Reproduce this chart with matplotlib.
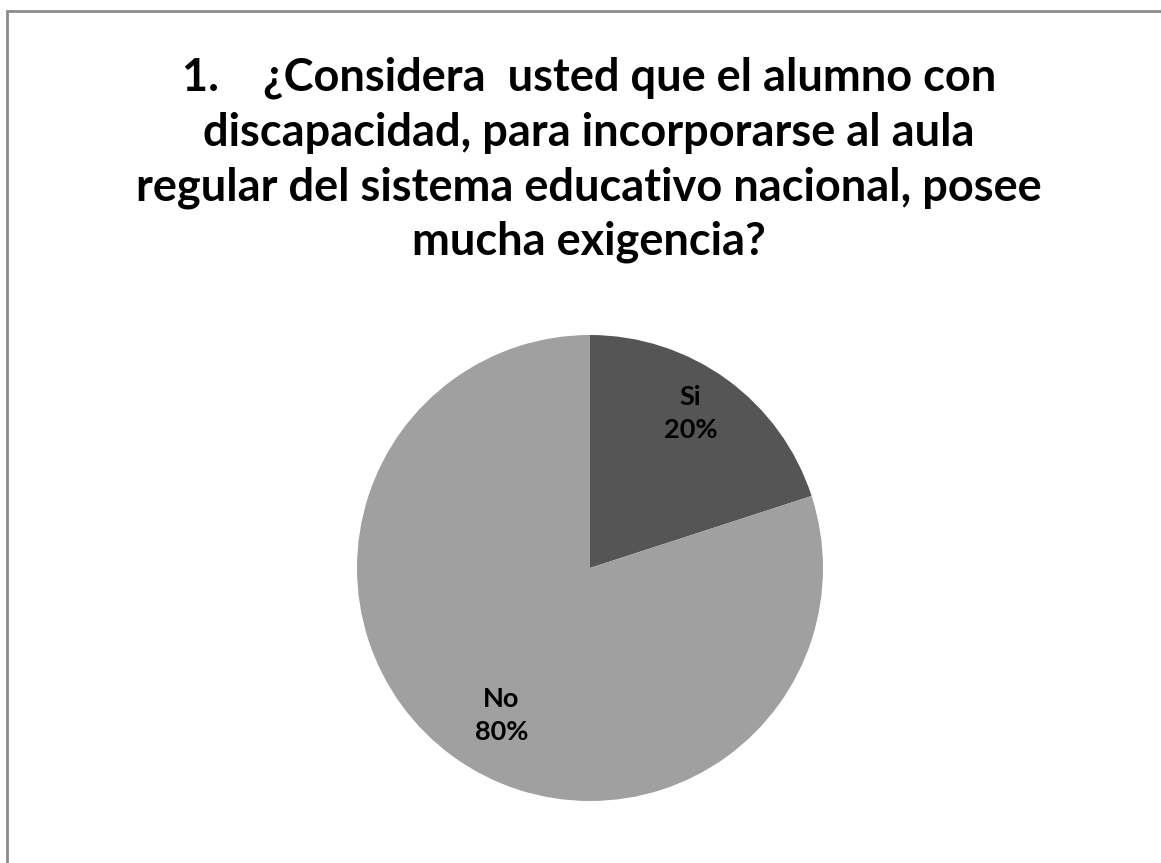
import matplotlib
matplotlib.use("Agg")
import matplotlib.pyplot as plt
from matplotlib.patches import Rectangle
import numpy as np

title_lines = [
    "1.    ¿Considera  usted que el alumno con",
    "discapacidad, para incorporarse al aula",
    "regular del sistema educativo nacional, posee",
    "mucha exigencia?",
]
categories = ["Si", "No"]
values = [20, 80]
colors = ["#555555", "#a0a0a0"]

W, H = 1161, 863
fig = plt.figure(figsize=(W / 100, H / 100), dpi=100)
plt.rcParams['font.family'] = ['Lato', 'DejaVu Sans']

# outer chart border (top and left edges visible)
fig.patches.append(Rectangle((7 / W, -0.1), 1.2, 1 - 11 / H + 0.1,
                             transform=fig.transFigure, fill=False,
                             edgecolor="#8c8c8c", linewidth=2))

line_y = [78, 133, 188, 242]
for txt, y in zip(title_lines, line_y):
    fig.text(589 / W, 1 - y / H, txt, ha="center", va="center",
             fontsize=32.5, fontweight="bold", color="black")

cx, cy, r = 590, 568, 233
ax = fig.add_axes([(cx - r) / W, (H - cy - r) / H, 2 * r / W, 2 * r / H])
total = sum(values)
labels = [f"{c}\n{v / total * 100:.0f}%" for c, v in zip(categories, values)]
wedges, texts = ax.pie(values, labels=labels, colors=colors, startangle=90,
                       counterclock=False, labeldistance=0.77, radius=1,
                       textprops=dict(fontsize=19.5, fontweight="bold",
                                      color="black", linespacing=1.45))
# excel-like label placement inside each slice
for w, t, dist, shift in zip(wedges, texts, [0.79, 0.74], [3, 5]):
    ang = np.deg2rad((w.theta1 + w.theta2) / 2 + shift)
    t.set_position((dist * np.cos(ang), dist * np.sin(ang)))
    t.set_ha("center")
    t.set_va("center")
ax.set_xlim(-1, 1)
ax.set_ylim(-1, 1)
ax.set_aspect("equal")
ax.axis("off")

fig.savefig("out.png", dpi=100)
